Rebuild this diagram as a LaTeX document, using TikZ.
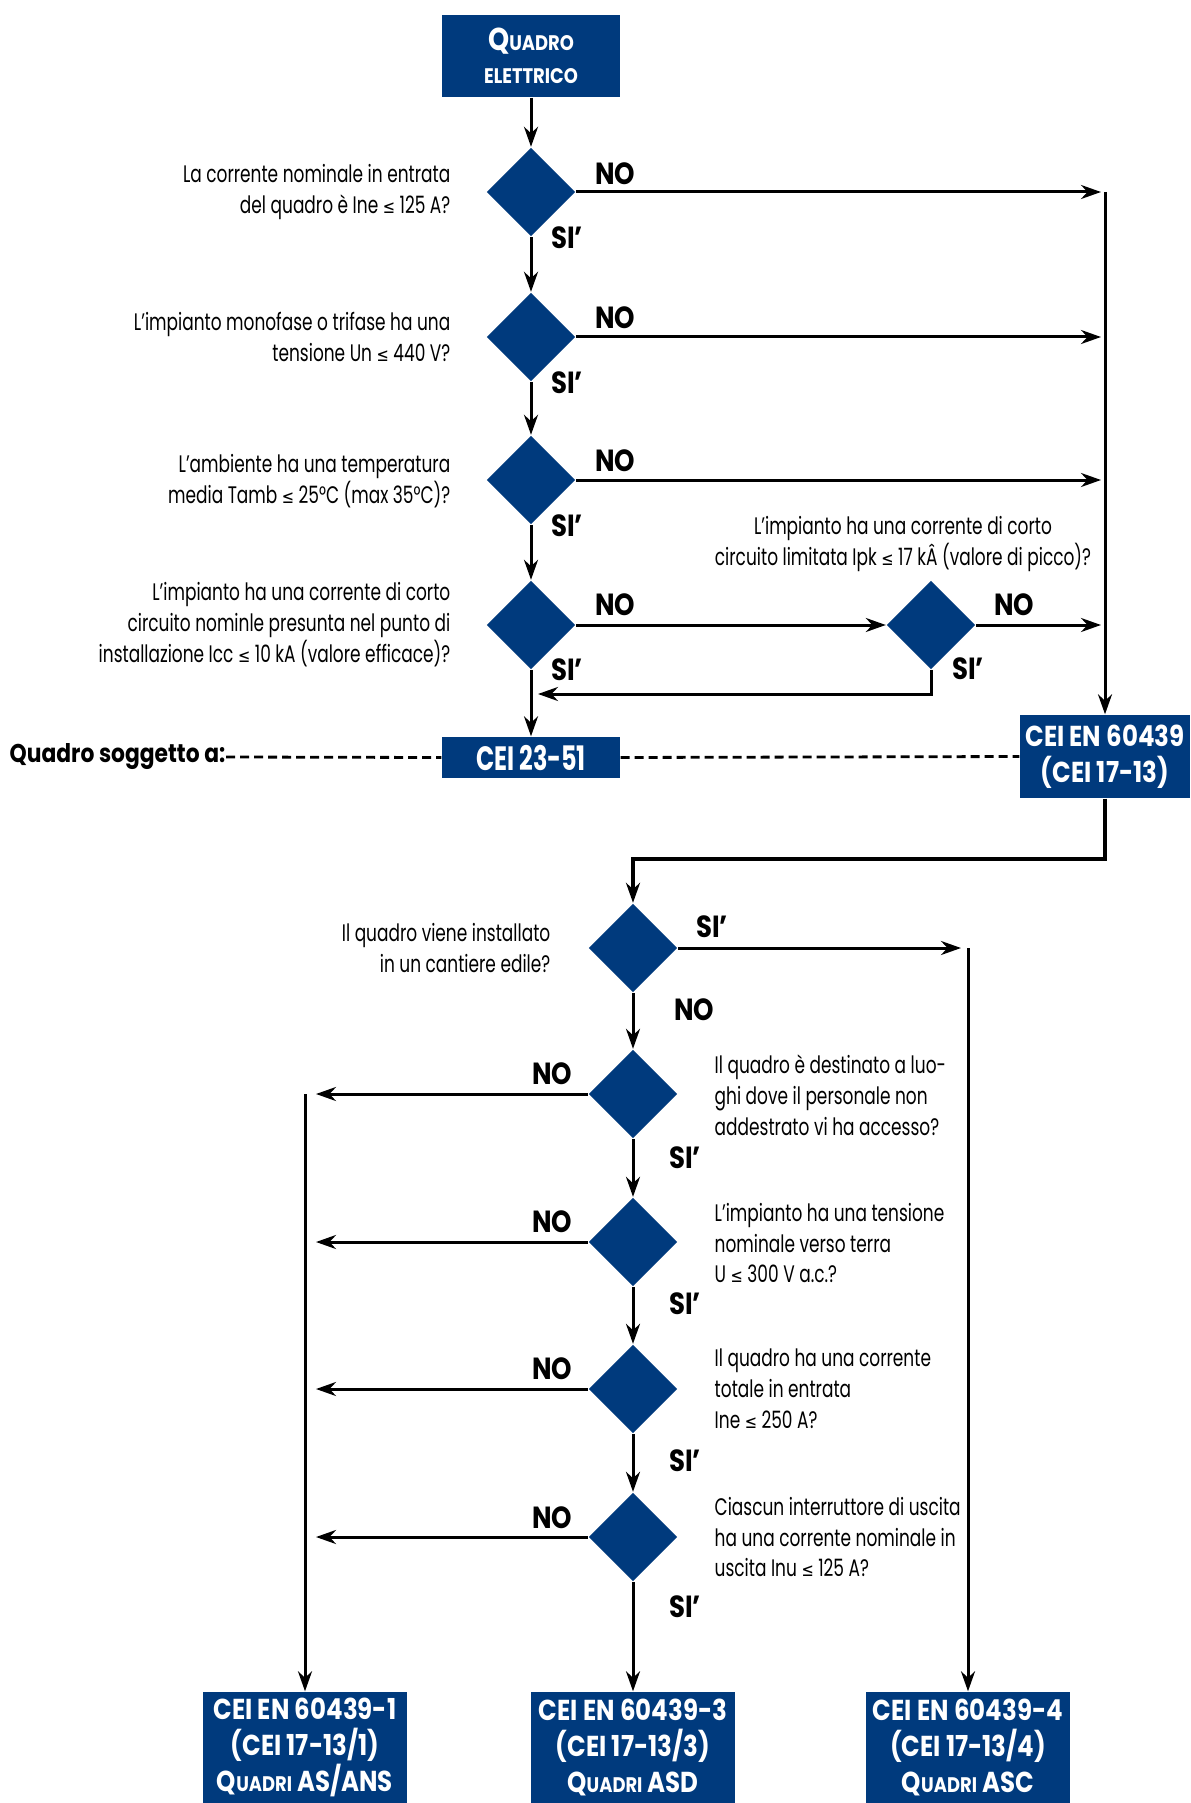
\documentclass[tikz,border=0pt]{standalone}
\usepackage{fontspec}
\setmainfont{Poppins}[FakeStretch=0.71]
\newfontfamily\widefont{Poppins}[FakeStretch=0.85]
\newfontfamily\symfont{DejaVu Sans}[FakeStretch=0.8]
\usetikzlibrary{arrows.meta,shapes.geometric,positioning}

\definecolor{navy}{RGB}{0,58,125}

\newcommand{\lesym}{{\symfont\fontsize{5.2}{5}\selectfont ≤}}
\newcommand{\smc}[1]{{\fontsize{6}{6}\selectfont #1}}

\tikzset{
  arr/.style={-{Stealth[length=2mm,width=1.4mm]}, line width=0.3mm},
  dashline/.style={line width=0.28mm, dash pattern=on 0.9mm off 0.5mm},
  decision/.style={diamond, fill=navy, minimum width=8.9mm, minimum height=8.9mm, inner sep=0pt},
  normbox/.style={fill=navy, text=white, align=center, inner sep=0pt,
    font=\widefont\bfseries\fontsize{8.2}{10.2}\selectfont},
  question/.style={font=\fontsize{6.8}{8.8}\selectfont, inner sep=0pt},
  answer/.style={font=\widefont\bfseries\fontsize{8.7}{9}\selectfont, inner sep=0pt},
}

\begin{document}
\begin{tikzpicture}[x=0.1mm, y=-0.1mm]
  \fill[white] (0,0) rectangle (1190,1803);
  \useasboundingbox (0,0) rectangle (1190,1803);

  % first part: quadro elettrico
  \node[normbox, minimum width=17.8mm, minimum height=8.2mm,
    font=\widefont\bfseries\fontsize{9}{9.4}\selectfont] (start) at (531,56) {Q\smc{UADRO}\\\smc{ELETTRICO}};

  \node[decision] (d1) at (531,192) {};
  \node[decision] (d2) at (531,337) {};
  \node[decision] (d3) at (531,480) {};
  \node[decision] (d4) at (531,625) {};
  \node[decision] (d5) at (931,625) {};

  \node[question, anchor=east, align=right] (q1) at (451,192)
    {La corrente nominale in entrata\\del quadro è Ine \lesym{} 125 A?};
  \node[question, anchor=east, align=right] (q2) at (451,337)
    {L’impianto monofase o trifase ha una\\tensione Un \lesym{} 440 V?};
  \node[question, anchor=east, align=right] (q3) at (451,481)
    {L’ambiente ha una temperatura\\media Tamb \lesym{} 25°C (max 35°C)?};
  \node[question, anchor=east, align=right] (q4) at (451,625)
    {L’impianto ha una corrente di corto\\circuito nominle presunta nel punto di\\installazione Icc \lesym{} 10 kA (valore efficace)?};
  \node[question, align=center] (q5) at (903,544)
    {L’impianto ha una corrente di corto\\circuito limitata Ipk \lesym{} 17 kÂ (valore di picco)?};

  \node[answer] (n1) at (615,174) {NO};
  \node[answer] (s1) at (567,238) {SI’};
  \node[answer] (n2) at (615,318) {NO};
  \node[answer] (s2) at (567,383) {SI’};
  \node[answer] (n3) at (615,461) {NO};
  \node[answer] (s3) at (567,526) {SI’};
  \node[answer] (n4) at (615,605) {NO};
  \node[answer] (s4) at (567,670) {SI’};
  \node[answer] (n5) at (1014,605) {NO};
  \node[answer] (s5) at (968,669) {SI’};

  \node[normbox, minimum width=17.8mm, minimum height=4.1mm,
    font=\bfseries\fontsize{9.6}{10}\selectfont] (std) at (531,757.5) {CEI 23-51};
  \node[normbox, minimum width=17mm, minimum height=8.3mm] (en) at (1105,756.5)
    {CEI EN 60439\\(CEI 17-13)};
  \node[anchor=west, inner sep=0pt, font=\widefont\bfseries\fontsize{7.3}{8}\selectfont] (subj) at (9,757)
    {Quadro soggetto a:};

  \coordinate (rtop) at (1105,192);
  \coordinate (ret) at (531,694);

  \draw[arr] (start.south) -- (d1.north);
  \foreach \a/\b in {d1/d2,d2/d3,d3/d4}
    \draw[arr] (\a.south) -- (\b.north);
  \draw[arr] (d4.south) -- (std.north);
  \foreach \d in {d1,d2,d3,d5}
    \draw[arr, shorten >=0.4mm] (\d.east) -- (\d -| rtop);
  \draw[arr] (d4.east) -- (d5.west);
  \draw[arr, shorten >=0.7mm] (d5.south) |- (ret);
  \draw[arr] (rtop) -- (en.north);
  \draw[dashline] (subj.east) -- (std.west);
  \draw[dashline] (std.east) -- (en.west);

  % second part: tipo di quadro
  \node[decision] (d6) at (633,948) {};
  \node[decision] (d7) at (633,1094) {};
  \node[decision] (d8) at (633,1242) {};
  \node[decision] (d9) at (633,1389) {};
  \node[decision] (d10) at (633,1537) {};

  \node[question, anchor=east, align=right] (q6) at (551,948)
    {Il quadro viene installato\\in un cantiere edile?};
  \node[question, anchor=west, align=left] (q7) at (714,1095)
    {Il quadro è destinato a luo-\\ghi dove il personale non\\addestrato vi ha accesso?};
  \node[question, anchor=west, align=left] (q8) at (714,1243)
    {L’impianto ha una tensione\\nominale verso terra\\U \lesym{} 300 V a.c.?};
  \node[question, anchor=west, align=left] (q9) at (714,1389)
    {Il quadro ha una corrente\\totale in entrata\\Ine \lesym{} 250 A?};
  \node[question, anchor=west, align=left] (q10) at (714,1537)
    {Ciascun interruttore di uscita\\ha una corrente nominale in\\uscita Inu \lesym{} 125 A?};

  \node[answer] (s6) at (712,927) {SI’};
  \node[answer] (n6) at (694,1010) {NO};
  \node[answer] (n7) at (552,1074) {NO};
  \node[answer] (s7) at (685,1158) {SI’};
  \node[answer] (n8) at (552,1222) {NO};
  \node[answer] (s8) at (685,1304) {SI’};
  \node[answer] (n9) at (552,1369) {NO};
  \node[answer] (s9) at (685,1461) {SI’};
  \node[answer] (n10) at (552,1518) {NO};
  \node[answer] (s10) at (685,1607) {SI’};

  \node[normbox, minimum width=20.4mm, minimum height=11.1mm] (b1) at (305,1747.5)
    {CEI EN 60439-1\\(CEI 17-13/1)\\Q\smc{UADRI} AS/ANS};
  \node[normbox, minimum width=20.4mm, minimum height=11.1mm] (b2) at (633,1747.5)
    {CEI EN 60439-3\\(CEI 17-13/3)\\Q\smc{UADRI} ASD};
  \node[normbox, minimum width=20.4mm, minimum height=11.1mm] (b3) at (968,1747.5)
    {CEI EN 60439-4\\(CEI 17-13/4)\\Q\smc{UADRI} ASC};

  \coordinate (knee) at (1105,859);
  \coordinate (ctop) at (968,948);
  \coordinate (ltop) at (305,1094);

  \draw[arr, line width=0.45mm] (en.south) -- (knee) -| (d6.north);
  \draw[arr, shorten >=0.7mm] (d6.east) -- (ctop);
  \draw[arr] (ctop) -- (b3.north);
  \foreach \a/\b in {d6/d7,d7/d8,d8/d9,d9/d10}
    \draw[arr] (\a.south) -- (\b.north);
  \draw[arr] (d10.south) -- (b2.north);
  \foreach \d in {d7,d8,d9,d10}
    \draw[arr, shorten >=1.1mm] (\d.west) -- (\d -| ltop);
  \draw[arr] (ltop) -- (b1.north);
\end{tikzpicture}
\end{document}
